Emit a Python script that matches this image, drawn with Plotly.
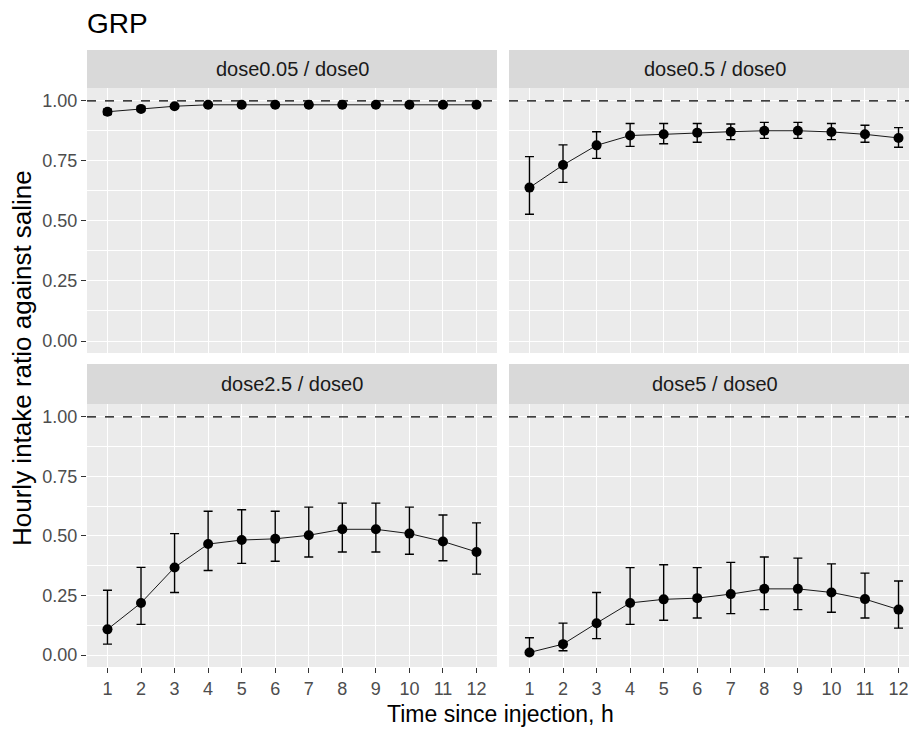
import plotly.graph_objects as go

hours = list(range(1, 13))
panel_titles = ["dose0.05 / dose0", "dose0.5 / dose0", "dose2.5 / dose0", "dose5 / dose0"]

d005_mean = [0.955, 0.967, 0.978, 0.984, 0.984, 0.984, 0.984, 0.984, 0.984, 0.984, 0.984, 0.984]
d005_low = [0.943, 0.959, 0.972, 0.980, 0.981, 0.981, 0.981, 0.981, 0.981, 0.981, 0.981, 0.981]
d005_high = [0.966, 0.975, 0.984, 0.988, 0.987, 0.987, 0.987, 0.987, 0.987, 0.987, 0.987, 0.987]

d05_mean = [0.639, 0.733, 0.815, 0.856, 0.861, 0.868, 0.872, 0.876, 0.876, 0.871, 0.861, 0.846]
d05_low = [0.528, 0.661, 0.761, 0.811, 0.822, 0.828, 0.839, 0.844, 0.844, 0.839, 0.828, 0.807]
d05_high = [0.768, 0.817, 0.872, 0.906, 0.906, 0.906, 0.904, 0.911, 0.911, 0.906, 0.899, 0.889]

d25_mean = [0.108, 0.219, 0.368, 0.466, 0.483, 0.488, 0.503, 0.528, 0.528, 0.510, 0.477, 0.433]
d25_low = [0.046, 0.129, 0.263, 0.355, 0.385, 0.394, 0.412, 0.433, 0.433, 0.423, 0.396, 0.340]
d25_high = [0.272, 0.368, 0.510, 0.604, 0.610, 0.604, 0.621, 0.638, 0.638, 0.621, 0.588, 0.555]

d5_mean = [0.011, 0.046, 0.134, 0.219, 0.234, 0.239, 0.256, 0.278, 0.278, 0.263, 0.235, 0.191]
d5_low = [0.004, 0.018, 0.069, 0.129, 0.146, 0.156, 0.174, 0.191, 0.191, 0.180, 0.156, 0.113]
d5_high = [0.073, 0.134, 0.263, 0.367, 0.379, 0.367, 0.389, 0.412, 0.407, 0.383, 0.344, 0.311]

reference_line = 1.0
y_ticks = [0.0, 0.25, 0.5, 0.75, 1.0]
y_tick_text = ["0.00", "0.25", "0.50", "0.75", "1.00"]

series = [
    (d005_mean, d005_low, d005_high),
    (d05_mean, d05_low, d05_high),
    (d25_mean, d25_low, d25_high),
    (d5_mean, d5_low, d5_high),
]

W, H = 909, 730
FONT = "Liberation Sans, Arial, sans-serif"

def px_x(p):
    return p / W

def px_y(p):
    return 1 - p / H

# panel pixel boxes (left, right, top, bottom)
boxes = [(87, 497, 88, 353), (509, 921, 88, 353), (87, 497, 404, 667), (509, 921, 404, 667)]
strips = [(50, 88), (50, 88), (364, 404), (364, 404)]

fig = go.Figure()
layout = dict(
    width=W, height=H,
    margin=dict(l=0, r=0, t=0, b=0),
    paper_bgcolor="white", plot_bgcolor="#EBEBEB",
    showlegend=False,
    font=dict(family=FONT),
)

shapes = []
annotations = []
for i, (m, lo, hi) in enumerate(series):
    n = i + 1
    xa = "x" if n == 1 else f"x{n}"
    ya = "y" if n == 1 else f"y{n}"
    fig.add_trace(go.Scatter(
        x=hours, y=m, xaxis=xa, yaxis=ya, mode="lines+markers",
        line=dict(color="black", width=0.9),
        marker=dict(color="black", size=10),
        error_y=dict(type="data", symmetric=False,
                     array=[h - v for h, v in zip(hi, m)],
                     arrayminus=[v - l for v, l in zip(m, lo)],
                     color="black", thickness=1.4, width=4.5),
    ))
    l, r, t, b = boxes[i]
    right_edge = min(r, W)
    xmax = 0.39 + (right_edge - l) / 33.55
    left_col = n in (1, 3)
    bottom_row = n in (3, 4)
    layout["xaxis" + ("" if n == 1 else str(n))] = dict(
        domain=[px_x(l), px_x(right_edge)], anchor=ya, range=[0.39, xmax],
        tickmode="array", tickvals=hours, ticktext=[str(h) for h in hours],
        showticklabels=bottom_row, ticks="outside" if bottom_row else "",
        ticklen=5, tickwidth=1, tickcolor="#333333",
        tickfont=dict(size=18, color="#4D4D4D", family=FONT),
        showgrid=True, gridcolor="white", gridwidth=1.1, zeroline=False, showline=False,
    )
    layout["yaxis" + ("" if n == 1 else str(n))] = dict(
        domain=[px_y(b), px_y(t)], anchor=xa, range=[-0.05, 1.054],
        tickmode="array", tickvals=y_ticks, ticktext=y_tick_text,
        showticklabels=left_col, ticks="outside" if left_col else "",
        ticklen=5, tickwidth=1, tickcolor="#333333",
        tickfont=dict(size=18, color="#4D4D4D", family=FONT),
        showgrid=True, gridcolor="white", gridwidth=1.1, zeroline=False, showline=False,
        minor=dict(tickmode="linear", tick0=0.125, dtick=0.25, showgrid=True,
                   gridcolor="white", gridwidth=0.5, ticks=""),
    )
    # dashed reference line
    shapes.append(dict(type="line", xref=f"{xa} domain", yref=ya, x0=0, x1=1,
                       y0=reference_line, y1=reference_line,
                       line=dict(color="black", width=1.2, dash="dash")))
    # strip
    st, sb = strips[i]
    shapes.append(dict(type="rect", xref="paper", yref="paper",
                       x0=px_x(l), x1=px_x(right_edge), y0=px_y(sb), y1=px_y(st),
                       fillcolor="#D9D9D9", line=dict(width=0), layer="below"))
    annotations.append(dict(text=panel_titles[i], xref="paper", yref="paper",
                            x=px_x((l + r) / 2), y=px_y((st + sb) / 2),
                            xanchor="center", yanchor="middle", showarrow=False,
                            font=dict(size=20, color="#1A1A1A", family=FONT)))

annotations.append(dict(text="GRP", xref="paper", yref="paper", x=px_x(85), y=px_y(24),
                        xanchor="left", yanchor="middle", showarrow=False,
                        font=dict(size=28, color="black", family=FONT)))
annotations.append(dict(text="Time since injection, h", xref="paper", yref="paper",
                        x=px_x(500), y=px_y(714), xanchor="center", yanchor="middle",
                        showarrow=False, font=dict(size=23, color="black", family=FONT)))
annotations.append(dict(text="Hourly intake ratio against saline", xref="paper", yref="paper",
                        x=px_x(22), y=px_y(358), xanchor="center", yanchor="middle",
                        textangle=-90, showarrow=False,
                        font=dict(size=26, color="black", family=FONT)))

layout["shapes"] = shapes
layout["annotations"] = annotations
fig.update_layout(**layout)
fig.write_html(
    "out.html",
    config={"displayModeBar": False},
    post_script="document.body.style.margin='0';document.body.style.padding='0';document.body.style.overflow='hidden';",
)
